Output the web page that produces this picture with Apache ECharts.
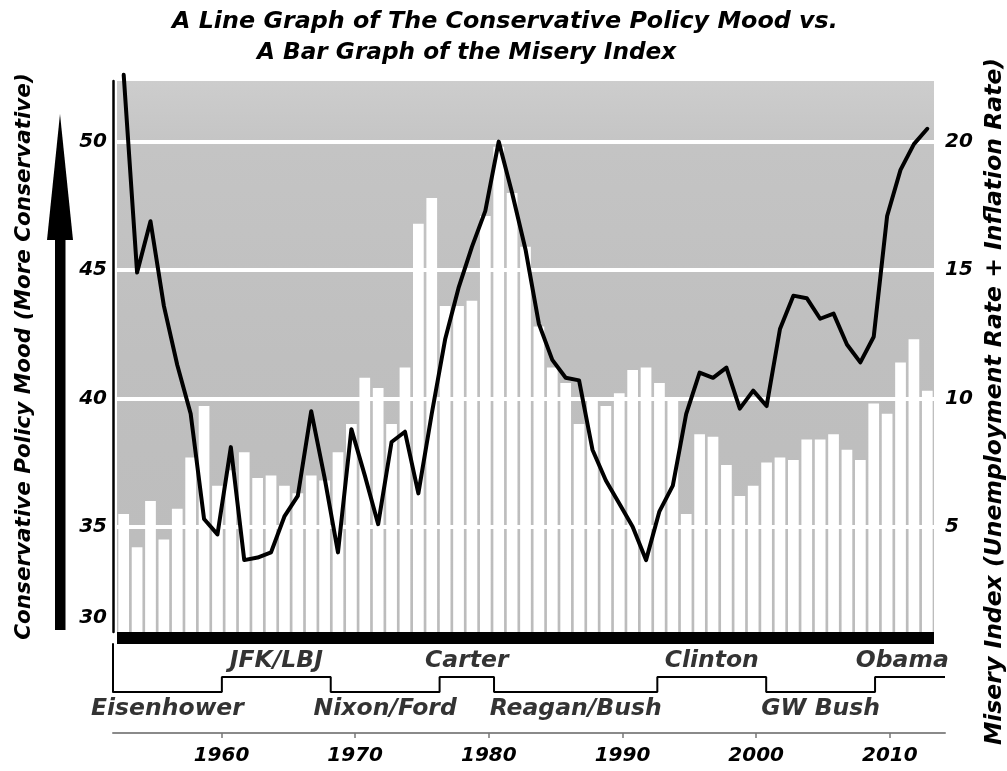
<!DOCTYPE html>
<html>
<head>
<meta charset="utf-8">
<script src="https://cdn.jsdelivr.net/npm/echarts@6/dist/echarts.min.js"></script>
<style>
html,body{margin:0;padding:0;background:#ffffff;}
#chart{width:1007px;height:771px;}
</style>
</head>
<body>
<div id="chart"></div>
<script>
// ---------------- DATA ----------------
const years = [1952,1953,1954,1955,1956,1957,1958,1959,1960,1961,
  1962,1963,1964,1965,1966,1967,1968,1969,1970,1971,
  1972,1973,1974,1975,1976,1977,1978,1979,1980,1981,
  1982,1983,1984,1985,1986,1987,1988,1989,1990,1991,
  1992,1993,1994,1995,1996,1997,1998,1999,2000,2001,
  2002,2003,2004,2005,2006,2007,2008,2009,2010,2011,2012];

// Conservative policy mood (left axis)
const policyMood = [52.6,44.9,46.9,43.6,41.3,39.4,35.3,34.7,38.1,33.7,
  33.8,34.0,35.4,36.2,39.5,36.9,34.0,38.8,37.0,35.1,
  38.3,38.7,36.3,39.4,42.3,44.3,45.9,47.3,50.0,48.0,
  45.8,42.9,41.5,40.8,40.7,38.0,36.8,35.9,35.0,33.7,
  35.6,36.6,39.4,41.0,40.8,41.2,39.6,40.3,39.7,42.7,
  44.0,43.9,43.1,43.3,42.1,41.4,42.4,47.1,48.9,49.9,50.5];

// Misery index (right axis)
const miseryIndex = [5.5,4.2,6.0,4.5,5.7,7.7,9.7,6.6,7.2,7.9,
  6.9,7.0,6.6,6.3,7.0,6.8,7.9,9.0,10.8,10.4,
  9.0,11.2,16.8,17.8,13.6,13.6,13.8,17.1,19.8,18.0,
  15.9,12.8,11.2,10.6,9.0,9.9,9.7,10.2,11.1,11.2,
  10.6,9.9,5.5,8.6,8.5,7.4,6.2,6.6,7.5,7.7,
  7.6,8.4,8.4,8.6,8.0,7.6,9.8,9.4,11.4,12.3,10.3];

const presidents = ['Eisenhower','JFK/LBJ','Nixon/Ford','Carter','Reagan/Bush','Clinton','GW Bush','Obama'];
const termStarts = [1953,1961,1969,1977,1981,1993,2001,2009];
const chartEndYear = 2013;

const leftTicks = [30,35,40,45,50];
const rightTicks = [5,10,15,20];
const yearTicks = [1960,1970,1980,1990,2000,2010];

const titleLine1 = 'A Line Graph of The Conservative Policy Mood vs.';
const titleLine2 = 'A Bar Graph of the Misery Index';
const leftAxisTitle = 'Conservative Policy Mood (More Conservative)';
const rightAxisTitle = 'Misery Index (Unemployment Rate + Inflation Rate)';

// ---------------- AXIS RANGES ----------------
const leftMin = 30.9, leftMax = 52.36;
const rightMin = 0.9, rightMax = 22.36;
const bandMin = 1953, bandMax = 2014.14;
const yearAxisMin = 1951.88, yearAxisMax = 2014.13;

const FONT = 'DejaVu Sans';
function tstyle(size){
  return {fontFamily: FONT, fontWeight: 'bold', fontStyle: 'italic', fontSize: size, color: '#000'};
}

const leftLabelValues = leftTicks.map(v => Math.max(v, leftMin));

// president step line + labels
const stepData = termStarts.map((s, i) => [s, i % 2]);
stepData.push([bandMax, (termStarts.length - 1) % 2]);
const presLabelData = presidents.map((n, i) => {
  const s = termStarts[i];
  const e = i < termStarts.length - 1 ? termStarts[i + 1] : chartEndYear;
  const lvl = i % 2;
  return {
    value: [(s + e) / 2, lvl],
    name: n,
    label: {position: lvl ? 'top' : 'bottom'}
  };
});

const chart = echarts.init(document.getElementById('chart'), null, {renderer: 'canvas'});

const option = {
  animation: false,
  backgroundColor: '#ffffff',
  title: [
    {text: titleLine1, left: 172, top: 10, padding: 0, textStyle: tstyle(23.8)},
    {text: titleLine2, left: 257, top: 41, padding: 0, textStyle: tstyle(23.2)}
  ],
  graphic: [
    {type: 'polygon', shape: {points: [[60, 114], [47, 240], [73, 240]]}, style: {fill: '#000'}},
    {type: 'rect', shape: {x: 55, y: 235, width: 10.5, height: 395}, style: {fill: '#000'}}
  ],
  grid: [
    {
      left: 117, right: 73, top: 81, bottom: 139,
      outerBoundsMode: 'none', containLabel: false,
      show: true, borderWidth: 0,
      backgroundColor: {
        type: 'linear', x: 0, y: 0, x2: 0, y2: 1,
        colorStops: [
          {offset: 0, color: '#cdcdcd'},
          {offset: 0.12, color: '#c4c4c4'},
          {offset: 0.5, color: '#bfbfbf'},
          {offset: 1, color: '#bcbcbc'}
        ]
      }
    },
    {left: 113, right: 62, top: 644, height: 48, show: false,
      outerBoundsMode: 'none', containLabel: false}
  ],
  xAxis: [
    {
      type: 'category', gridIndex: 0, data: years,
      offset: 6,
      axisLine: {show: true, lineStyle: {color: '#000', width: 12, cap: 'butt'}},
      axisTick: {show: false},
      axisLabel: {show: false},
      splitLine: {show: false}
    },
    {
      type: 'value', gridIndex: 1, min: bandMin, max: bandMax, show: false
    },
    {
      type: 'value', gridIndex: 1, min: yearAxisMin, max: yearAxisMax,
      position: 'bottom', offset: 41,
      axisLine: {show: true, lineStyle: {color: '#8a8a8a', width: 2}},
      axisTick: {show: true, customValues: yearTicks, length: 5, lineStyle: {color: '#777', width: 1.5}},
      axisLabel: {show: true, customValues: yearTicks, margin: 13, ...tstyle(20),
        formatter: v => String(v)},
      splitLine: {show: false}
    }
  ],
  yAxis: [
    {
      type: 'value', gridIndex: 0, position: 'left', min: leftMin, max: leftMax,
      offset: 4,
      name: leftAxisTitle, nameLocation: 'middle', nameRotate: 90, nameGap: 78,
      nameTextStyle: tstyle(21.5),
      axisLine: {show: true, lineStyle: {color: '#000', width: 2.5}},
      axisTick: {show: false},
      splitLine: {show: false},
      axisLabel: {
        show: true, customValues: leftLabelValues, margin: 6,
        ...tstyle(20),
        formatter: function (v) {
          const idx = leftLabelValues.indexOf(v);
          const t = idx >= 0 ? leftTicks[idx] : v;
          return idx === 0 ? '{low|' + t + '}' : String(t);
        },
        rich: {low: {padding: [0, 0, 28, 0], ...tstyle(20)}}
      }
    },
    {
      type: 'value', gridIndex: 0, position: 'right', min: rightMin, max: rightMax,
      name: rightAxisTitle, nameLocation: 'middle', nameRotate: 90, nameGap: 46,
      nameTextStyle: Object.assign(tstyle(23.5), {padding: [0, 90, 0, 0]}),
      axisLine: {show: false},
      axisTick: {show: false},
      splitLine: {show: false},
      axisLabel: {show: true, customValues: rightTicks, margin: 11, ...tstyle(20)}
    },
    {
      type: 'value', gridIndex: 1, min: 0, max: 3.2,
      axisLine: {show: true, lineStyle: {color: '#000', width: 2}},
      axisTick: {show: false}, axisLabel: {show: false}, splitLine: {show: false}
    }
  ],
  series: [
    {
      name: 'Misery Index', type: 'bar', xAxisIndex: 0, yAxisIndex: 1,
      data: miseryIndex, barWidth: '80%', z: 2,
      itemStyle: {color: '#ffffff'},
      markLine: {
        silent: true, symbol: ['none', 'none'],
        label: {show: false},
        lineStyle: {color: '#ffffff', width: 4, type: 'solid'},
        data: rightTicks.map(v => ({yAxis: v}))
      }
    },
    {
      name: 'Conservative Policy Mood', type: 'line', xAxisIndex: 0, yAxisIndex: 0,
      data: policyMood, symbol: 'none', clip: false, z: 5,
      lineStyle: {color: '#000', width: 4, join: 'round', cap: 'round'}
    },
    {
      name: 'Presidents', type: 'line', xAxisIndex: 1, yAxisIndex: 2,
      data: stepData, step: 'end', symbol: 'none', z: 3,
      lineStyle: {color: '#000', width: 2}
    },
    {
      name: 'Presidents labels', type: 'scatter', xAxisIndex: 1, yAxisIndex: 2,
      data: presLabelData, symbolSize: 0, z: 4,
      label: {
        show: true, distance: 5,
        formatter: p => p.name,
        ...tstyle(23.5)
      }
    }
  ]
};
chart.setOption(option);
</script>
</body>
</html>
